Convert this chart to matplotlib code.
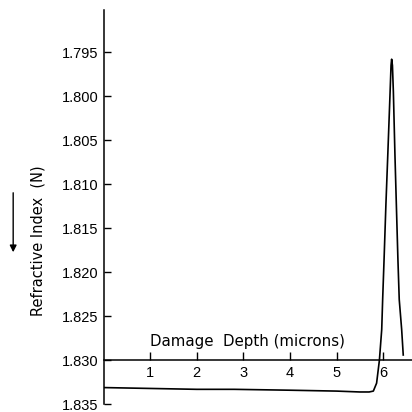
import matplotlib
matplotlib.use("Agg")
import matplotlib.pyplot as plt

plt.rcParams['font.family'] = ['Liberation Sans', 'DejaVu Sans']

# Curve data: damage depth (microns) vs refractive index
depth = [0.0, 1.0, 2.0, 2.8, 4.0, 5.0, 5.5, 5.7, 5.79, 5.86, 5.92, 5.97, 5.99,
         6.02, 6.06, 6.10, 6.15, 6.17, 6.183, 6.20, 6.22, 6.254, 6.284, 6.318,
         6.346, 6.398, 6.432]
index = [1.8331, 1.8332, 1.8333, 1.8333, 1.8334, 1.8335, 1.8336, 1.8336, 1.8335,
         1.8326, 1.8300, 1.8265, 1.8231, 1.8186, 1.8123, 1.8067, 1.7995, 1.7965,
         1.7958, 1.7965, 1.7995, 1.8067, 1.8123, 1.8186, 1.8231, 1.8265, 1.8294]

x_ticks = [1, 2, 3, 4, 5, 6]
y_ticks = [1.795, 1.800, 1.805, 1.810, 1.815, 1.820, 1.825, 1.830, 1.835]
y_ticklabels = ["1.795", "1.800", "1.805", "1.810", "1.815", "1.820", "1.825", "1.830", "1.835"]

fig = plt.figure(figsize=(4.12, 4.12), dpi=100)
ax = fig.add_axes([0.2515, 0.0187, 0.7485, 0.9573])

ax.plot(depth, index, color='black', lw=1.2)

ax.set_xlim(0, 6.62)
ax.set_ylim(1.835, 1.7902)

for s in ['top', 'right']:
    ax.spines[s].set_visible(False)
ax.spines['bottom'].set_position(('data', 1.830))
ax.spines['bottom'].set_linewidth(1.1)
ax.spines['left'].set_linewidth(1.1)

ax.set_xticks(x_ticks)
ax.set_xticklabels([str(t) for t in x_ticks])
ax.set_yticks(y_ticks)
ax.set_yticklabels(y_ticklabels)

ax.tick_params(axis='x', direction='in', length=5.5, width=1.0, pad=4, labelsize=10.5)
ax.tick_params(axis='y', direction='in', length=5, width=1.0, pad=3.5, labelsize=10.5)

ax.text(1.0, 1.8284, "Damage  Depth (microns)", fontsize=10.8, ha='left',
        va='baseline', family='DejaVu Sans')

fig.text(0.092, 0.415, "Refractive Index  (N)", rotation=90, fontsize=10.5,
         ha='center', va='center', family='DejaVu Sans')
fig.patches.append(matplotlib.patches.FancyArrowPatch(
    (0.032, 1 - 190 / 412), (0.032, 1 - 255 / 412), transform=fig.transFigure,
    arrowstyle='-|>', mutation_scale=10, color='black', lw=1.0))

fig.savefig("out.png", dpi=100)
